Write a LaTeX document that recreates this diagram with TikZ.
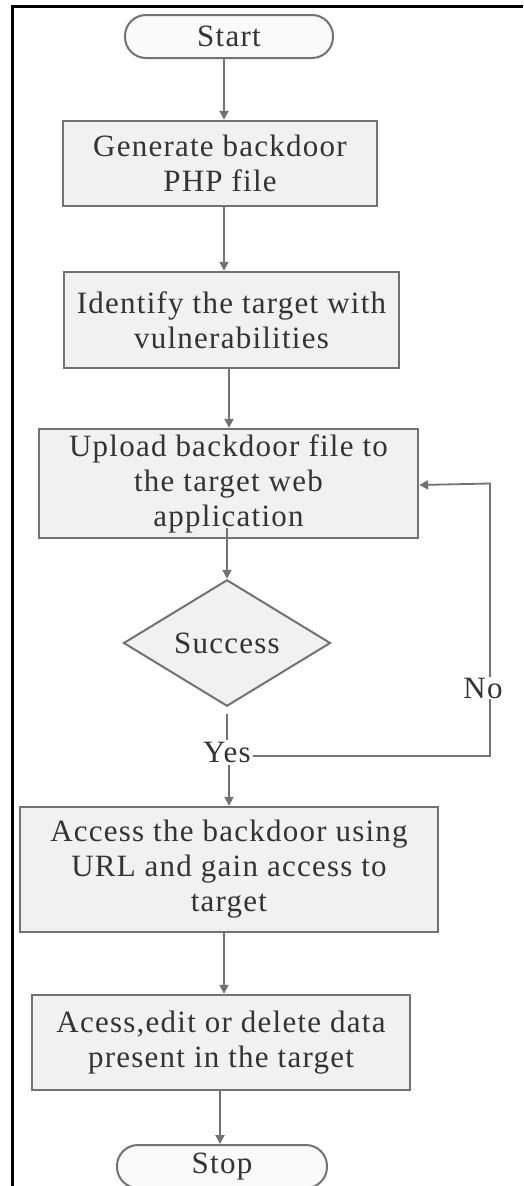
\documentclass[tikz,border=0pt]{standalone}
\usepackage{fontspec}
\setmainfont{Liberation Serif}[LetterSpace=4.0]
\usetikzlibrary{shapes.geometric,arrows.meta}
\definecolor{ln}{HTML}{727272}
\definecolor{tx}{HTML}{333333}
\definecolor{bx}{HTML}{F1F1F1}
\definecolor{tf}{HTML}{FAFAFA}
\begin{document}
\begin{tikzpicture}[x=1pt,y=-1pt,
  every node/.style={text=tx,font=\fontsize{31}{35}\selectfont},
  proc/.style={draw=ln,line width=2.4pt,fill=bx,align=center,inner sep=0pt},
  term/.style={draw=ln,line width=2pt,fill=tf,rounded corners=21pt,inner sep=0pt,minimum height=43pt},
  dec/.style={diamond,draw=ln,line width=2pt,fill=bx,inner sep=0pt,minimum width=207pt,minimum height=101pt},
  arr/.style={draw=ln,line width=1.8pt,-{Triangle[length=9pt,width=9pt]}},
  conn/.style={draw=ln,line width=1.8pt},
  lbl/.style={fill=white,inner sep=1pt},
  frame/.style={line width=3pt,black}]
\useasboundingbox (0,0) rectangle (523,1186);
\fill[white] (0,0) rectangle (523,1186);
\draw[frame] (12,1186) -- (12,6) -- (523,6);

\node[term,minimum width=208pt] (start) at (229,36.5) {Start};
\node[proc,minimum width=314pt,minimum height=85pt] (b1) at (220,163.5) {Generate backdoor\\PHP file};
\node[proc,minimum width=335pt,minimum height=96pt] (b2) at (231.5,320) {Identify the target with\\vulnerabilities};
\node[proc,minimum width=379pt,minimum height=109pt] (b3) at (228.5,483.5) {Upload backdoor file to\\the target web\\application};
\node[dec] (dec) at (227,643) {Success};
\node[inner sep=2pt] (yes) at (227,752) {Yes};
\node[proc,minimum width=418pt,minimum height=125pt] (b4) at (229,869.5) {Access the backdoor using\\URL and gain access to\\target};
\node[proc,minimum width=378pt,minimum height=95pt] (b5) at (221,1042.5) {Acess,edit or delete data\\present in the target};
\node[term,minimum width=210pt] (stop) at (222,1166.5) {Stop};

\coordinate (c1) at (224,0);
\coordinate (c2) at (229,0);
\coordinate (c3) at (227,0);
\coordinate (c4) at (220,0);
\coordinate (rt) at (490,0);

\draw[arr] (start.south -| c1) -- (b1.north -| c1);
\draw[arr] (b1.south -| c1) -- (b2.north -| c1);
\draw[arr] (b2.south -| c2) -- (b3.north -| c2);
\draw[arr] ([yshift=11pt]b3.south -| c3) -- (dec.north);
\draw[conn] ([yshift=-7pt]dec.south) -- (yes.north);
\draw[arr] (yes.south -| c2) -- (b4.north -| c2);
\draw[arr] (b4.south -| c1) -- (b5.north -| c1);
\draw[arr] (b5.south -| c4) -- (stop.north -| c4);
\draw[arr] ([yshift=-4pt]yes.east) -- ([yshift=-4pt]yes.east -| rt) -- (b3.east -| rt) -- ([yshift=-1.5pt]b3.east);
\node[lbl] (no) at (483,688) {No};
\end{tikzpicture}
\end{document}
